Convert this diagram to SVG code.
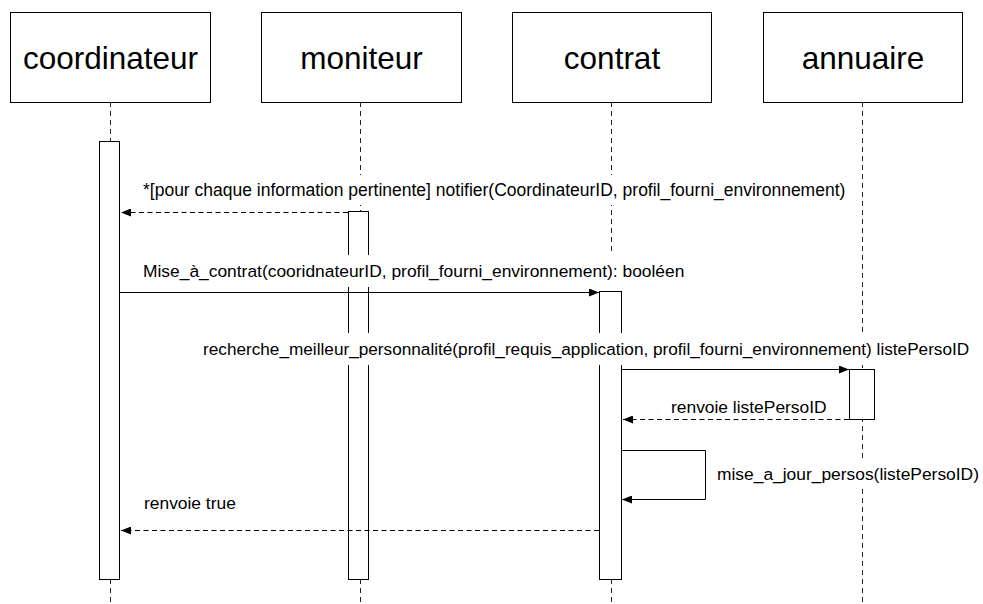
<svg xmlns="http://www.w3.org/2000/svg" width="983" height="604" viewBox="0 0 983 604">
<style>
.box{fill:#fff;stroke:#000;stroke-width:1}
.title{font-family:"Liberation Sans",Arial,sans-serif;font-size:31.5px;text-anchor:middle;fill:#000}
.life{stroke:#222;stroke-width:1;stroke-dasharray:5 4;fill:none}
.act{fill:#fff;stroke:#000;stroke-width:1}
.lbl{font-family:"Liberation Sans",Arial,sans-serif;font-size:17.4px;fill:#000}
.bg{fill:#fff;stroke:none}
.msg{stroke:#000;stroke-width:1;fill:none}
.ret{stroke:#000;stroke-width:1;fill:none;stroke-dasharray:5 3.5}
</style>
<defs>
<marker id="ah" markerWidth="10" markerHeight="8" refX="10" refY="4" orient="auto" markerUnits="userSpaceOnUse">
<path d="M0,0 L10,4 L0,8 Z" fill="#000"/>
</marker>
</defs>
<rect width="983" height="604" fill="#fff"/>
<g id="lifelines">
<line class="life" x1="110.5" y1="102" x2="110.5" y2="604"/>
<line class="life" x1="360.5" y1="102" x2="360.5" y2="604"/>
<line class="life" x1="611.5" y1="102" x2="611.5" y2="604"/>
<line class="life" x1="862.5" y1="102" x2="862.5" y2="604"/>
</g>
<g id="coordinateur">
<rect class="box" x="10.5" y="12.5" width="200" height="90"/>
<text class="title" x="110.5" y="69">coordinateur</text>
<rect class="act" x="99.5" y="141.5" width="20" height="438"/>
</g>
<g id="moniteur">
<rect class="box" x="261.5" y="12.5" width="200" height="90"/>
<text class="title" x="361.5" y="69">moniteur</text>
<rect class="act" x="348.5" y="211.5" width="20" height="368"/>
</g>
<g id="contrat">
<rect class="box" x="512.5" y="12.5" width="199" height="90"/>
<text class="title" x="612" y="69">contrat</text>
<rect class="act" x="599.5" y="291.5" width="22" height="288"/>
</g>
<g id="annuaire">
<rect class="box" x="763.5" y="12.5" width="199" height="90"/>
<text class="title" x="863" y="69">annuaire</text>
<rect class="act" x="849.5" y="369.5" width="25" height="50"/>
</g>
<g id="label-backgrounds">
<rect class="bg" x="141" y="175" width="708" height="30"/>
<rect class="bg" x="141" y="255" width="550" height="32"/>
<rect class="bg" x="201" y="333" width="774" height="32"/>
<rect class="bg" x="669" y="397" width="160" height="20"/>
<rect class="bg" x="715" y="458" width="266" height="31"/>
<rect class="bg" x="142" y="490" width="94" height="26"/>
</g>
<g id="connectors">
<line class="ret" x1="348" y1="212.5" x2="121" y2="212.5" marker-end="url(#ah)"/>
<line class="msg" x1="119" y1="292.5" x2="599" y2="292.5" marker-end="url(#ah)"/>
<line class="msg" x1="621" y1="369.5" x2="849" y2="369.5" marker-end="url(#ah)"/>
<line class="ret" x1="849" y1="419.5" x2="623" y2="419.5" marker-end="url(#ah)"/>
<polyline class="msg" points="621,450.5 705.5,450.5 705.5,499.5 622,499.5" marker-end="url(#ah)"/>
<line class="ret" x1="599" y1="530.5" x2="121" y2="530.5" marker-end="url(#ah)"/>
</g>
<g id="labels">
<text class="lbl" x="143" y="196" style="font-size:17.5px">*[pour chaque information pertinente] notifier(CoordinateurID, profil_fourni_environnement)</text>
<text class="lbl" x="143" y="277">Mise_à_contrat(cooridnateurID, profil_fourni_environnement): booléen</text>
<text class="lbl" x="203" y="355" style="font-size:17.2px">recherche_meilleur_personnalité(profil_requis_application, profil_fourni_environnement) listePersoID</text>
<text class="lbl" x="671" y="413">renvoie listePersoID</text>
<text class="lbl" x="717" y="480">mise_a_jour_persos(listePersoID)</text>
<text class="lbl" x="144" y="509">renvoie true</text>
</g>
</svg>
